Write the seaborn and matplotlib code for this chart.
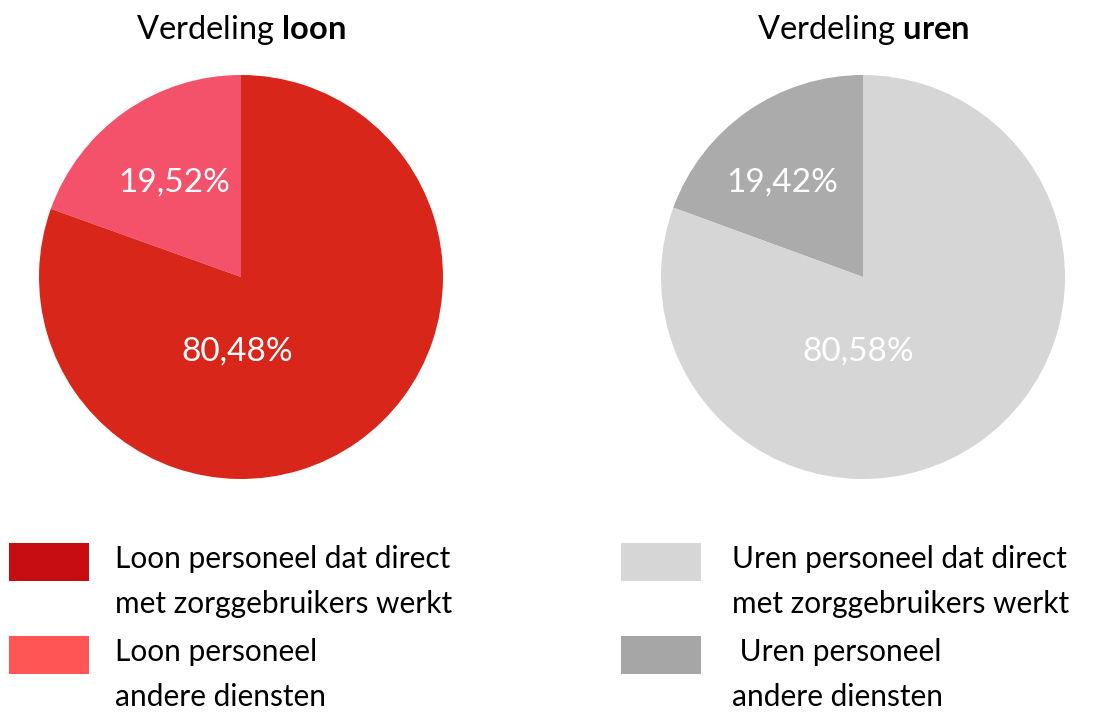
import matplotlib
matplotlib.use("Agg")
import matplotlib.pyplot as plt
import seaborn as sns
from matplotlib.patches import Rectangle
from matplotlib.legend_handler import HandlerBase

# ---- data ----
loon_labels = ["Loon personeel\nandere diensten", "Loon personeel dat direct\nmet zorggebruikers werkt"]
loon_values = [19.52, 80.48]
uren_labels = [" Uren personeel\nandere diensten", "Uren personeel dat direct\nmet zorggebruikers werkt"]
uren_values = [19.42, 80.58]
loon_pie_colors = ["#F4516A", "#D9261A"]
uren_pie_colors = ["#ABABAB", "#D6D6D6"]
loon_legend_colors = ["#C80D12", "#FF5555"]
uren_legend_colors = ["#D6D6D6", "#A6A6A6"]

sns.set_theme(style="white")
plt.rcParams["font.family"] = ["Lato", "DejaVu Sans"]
plt.rcParams["mathtext.fontset"] = "custom"
plt.rcParams["mathtext.rm"] = "Lato"
plt.rcParams["mathtext.bf"] = "Lato:bold"
plt.rcParams["text.color"] = "black"

fig = plt.figure(figsize=(11.04, 7.13), dpi=100)
W, H = 1104, 713
R = 202
PX2PT = 72 / 100


def pie_axes(cx, cy):
    return fig.add_axes([(cx - R) / W, (H - cy - R) / H, 2 * R / W, 2 * R / H])


class TopHandler(HandlerBase):
    def __init__(self, dy, h):
        super().__init__()
        self.dy = dy
        self.h = h

    def create_artists(self, legend, orig_handle, xdescent, ydescent, width, height, fontsize, trans):
        cy = -ydescent + height / 2 + self.dy
        r = Rectangle((-xdescent, cy - self.h / 2), width, self.h,
                      facecolor=orig_handle.get_facecolor(), edgecolor="none", transform=trans)
        return [r]


def fmt(v):
    return f"{v:.2f}".replace(".", ",") + "%"


def draw(cx, title, values, colors, label_pos):
    ax = pie_axes(cx, 277)
    ax.pie(values, colors=colors, startangle=90, counterclock=True, radius=1,
           wedgeprops=dict(linewidth=0))
    ax.set_xlim(-1, 1)
    ax.set_ylim(-1, 1)
    ax.set_aspect("equal")
    ax.axis("off")
    ax.set_title(title, fontsize=23.5, pad=26, color="black")
    for v, (x, y) in zip(values, label_pos):
        ax.text(x, y, fmt(v), color="white", fontsize=24, fontweight="normal",
                ha="center", va="center")
    return ax


draw(241, r"Verdeling $\mathbf{loon}$", loon_values, loon_pie_colors,
     [(-0.33, 0.47), (-0.02, -0.37)])
draw(863, r"Verdeling $\mathbf{uren}$", uren_values, uren_pie_colors,
     [(-0.40, 0.47), (-0.025, -0.37)])

fs = 21.5
fs_px = fs / PX2PT


def add_legend(x_px, labels, colors, textpad_px):
    handles = [Rectangle((0, 0), 1, 1, facecolor=c) for c in colors]
    leg = fig.legend(handles, labels, loc="upper left",
                     bbox_to_anchor=(x_px / W, (H - 545) / H),
                     bbox_transform=fig.transFigure, frameon=False,
                     fontsize=fs, borderpad=0, borderaxespad=0, labelcolor="black",
                     handlelength=80 / fs_px, handleheight=1.0,
                     handletextpad=textpad_px / fs_px, labelspacing=0.7,
                     handler_map={Rectangle: TopHandler(15, 38 * PX2PT)})
    for t in leg.get_texts():
        t.set_linespacing(1.72)
    return leg


add_legend(9, [loon_labels[1], loon_labels[0]], loon_legend_colors, 26)
add_legend(621, [uren_labels[1], uren_labels[0]], uren_legend_colors, 31)

fig.savefig("out.png", dpi=100, facecolor="white")
